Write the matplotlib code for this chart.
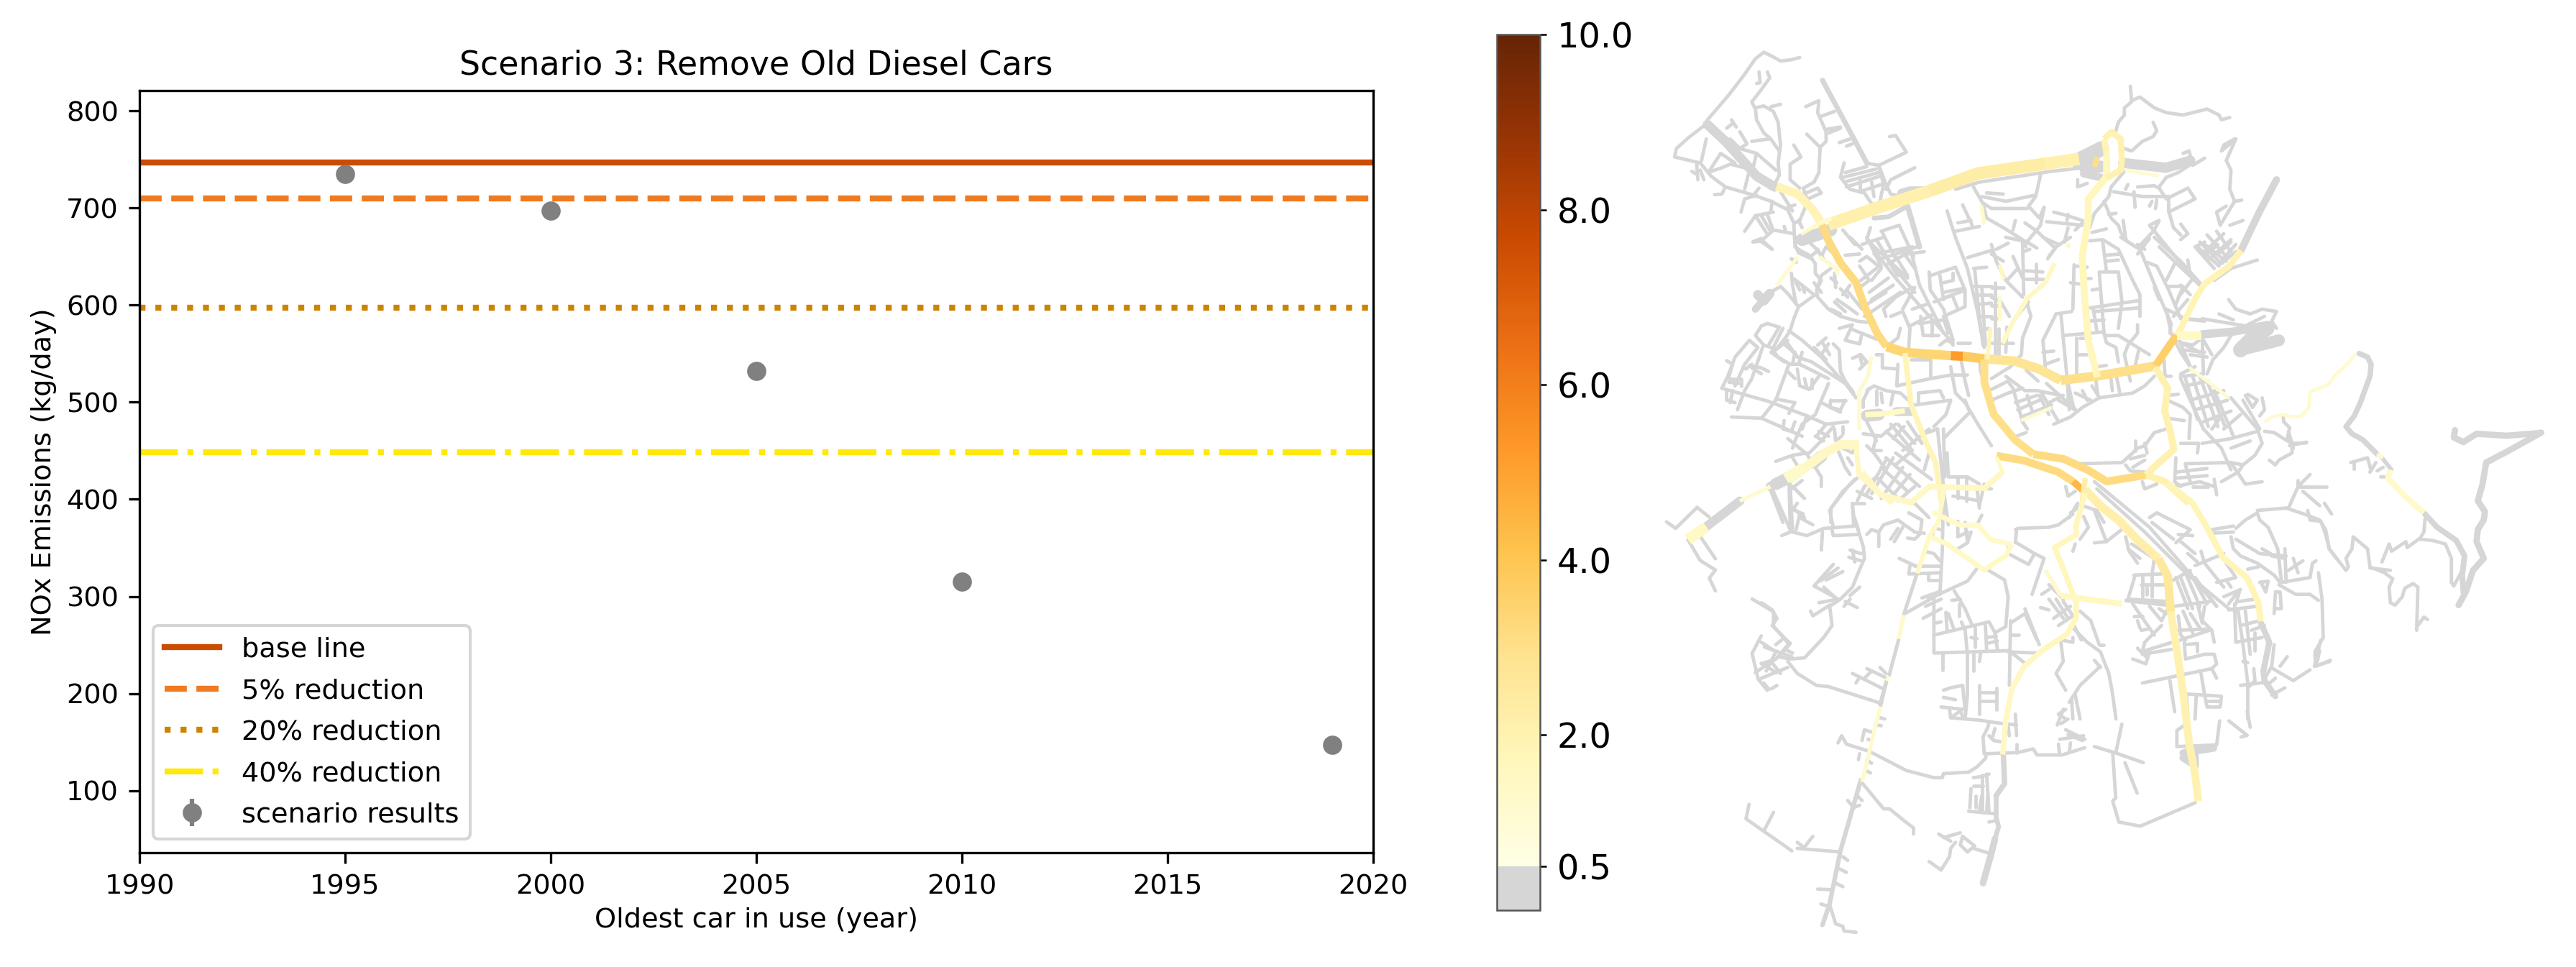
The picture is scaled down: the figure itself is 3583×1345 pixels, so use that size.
import matplotlib
matplotlib.use("Agg")
import matplotlib.pyplot as plt
from matplotlib.collections import LineCollection
from matplotlib.colors import Normalize
from matplotlib.cm import ScalarMappable

# Scenario results

years = [1995, 2000, 2005, 2010, 2019]
emissions = [735, 697, 532, 315, 147]
emission_err = [3, 3, 3, 3, 3]

base_line = 747
reductions = [0.05, 0.20, 0.40]
reduction_labels = ["5% reduction", "20% reduction", "40% reduction"]
reduction_colors = ["#f07a20", "#cc8400", "#ffe80a"]
reduction_styles = ["--", ":", "-."]

x_ticks = [1990, 1995, 2000, 2005, 2010, 2015, 2020]
y_ticks = [100, 200, 300, 400, 500, 600, 700, 800]
bar_ticks = [0.5, 2, 4, 6, 8, 10]

main_north = [
    [(345, 700), (420, 650), (510, 595)],
    [(510, 595), (590, 540), (700, 510)],
    [(700, 510), (755, 495)],
    [(260, 580), (295, 605), (320, 655), (335, 700)],
    [(335, 700), (345, 750), (365, 820), (390, 880), (405, 960), (425, 1040), (440, 1080)],
    [(440, 1080), (470, 1098), (545, 1108)],
    [(545, 1108), (565, 1110)],
    [(565, 1110), (600, 1118)],
    [(600, 1118), (650, 1125), (690, 1150), (725, 1185)],
    [(725, 1185), (790, 1170), (880, 1140)],
    [(880, 1140), (905, 1070), (915, 1045)],
    [(915, 1045), (925, 1010), (945, 930), (960, 885), (1000, 830), (1020, 780)],
    [(800, 480), (800, 550), (770, 620), (770, 680), (760, 800), (765, 950), (770, 1060), (785, 1175)],
    [(600, 1120), (600, 1190), (615, 1290), (650, 1370), (680, 1415)],
    [(680, 1415), (730, 1430), (770, 1465), (800, 1500), (865, 1480)],
    [(880, 1145), (900, 1210), (895, 1280), (905, 1350), (910, 1400), (875, 1460), (865, 1480)],
    [(865, 1480), (895, 1500), (935, 1568)],
    [(620, 1420), (665, 1435), (720, 1470), (745, 1500)],
    [(745, 1500), (763, 1530)],
    [(470, 1100), (480, 1260), (505, 1380), (520, 1440), (530, 1568)],
    [(395, 1385), (365, 1385), (340, 1410), (280, 1495)],
    [(295, 800), (260, 890)],
    [(330, 800), (360, 840), (358, 855)],
    [(395, 1340), (395, 1220), (410, 1170), (415, 1110)],
    [(390, 1390), (395, 1480), (430, 1540), (450, 1568)],
    [(595, 640), (600, 700)],
    [(625, 825), (632, 870)],
    [(625, 920), (625, 1000)],
    [(610, 1020), (605, 1120)],
    [(715, 820), (700, 880), (670, 930), (645, 1010), (630, 1070)],
    [(935, 1145), (970, 1195), (1000, 1240)],
    [(405, 1292), (430, 1290), (470, 1280)],
    [(830, 530), (885, 548)],
    [(915, 1045), (955, 1045)],
    [(660, 1310), (710, 1270)],
    [(620, 1425), (630, 1470), (600, 1520), (570, 1522)],
    [(740, 760), (735, 770)],
    [(765, 1490), (760, 1568)],
    [(796, 433), (808, 411), (823, 433), (825, 500), (823, 530), (800, 555)],
    [(796, 433), (800, 480)],
    [(785, 490), (780, 520)],
    [(300, 730), (335, 690), (350, 682)],
]
main_north_values = [2.1, 2.3, 2.1, 1.9, 3.2, 3.4, 5.2, 3.8, 2.8, 3.0, 3.6, 1.9, 1.7, 3.0, 3.2,
                     2.0, 2.0, 3.2, 4.4, 1.8, 1.5, 1.1, 1.2, 1.2, 1.5, 1.3, 1.6, 1.3,
                     1.8, 1.5, 1.1, 1.4, 1.1, 1.4, 1.1, 1.4, 1.5, 2.2, 2.0, 1.9, 3.0, 1.3]
main_north_lanes = [3.2, 3.2, 3.2, 2.2, 2, 2.4, 2.4, 2.4, 2.4, 2.4, 2, 1.6, 1.8, 2, 2,
                    1.8, 1.8, 2, 1.8, 1.4, 2.4, 1, 1, 1, 1.3, 1, 1, 1,
                    1, 1.2, 0.9, 1.4, 0.9, 2.2, 0.9, 1, 1, 1.4, 1.6, 1.6, 1.4, 0.9]

main_south = [
    [(765, 70), (790, 120), (820, 165), (850, 225), (885, 285)],
    [(885, 285), (900, 340), (905, 450)],
    [(905, 450), (915, 570), (925, 700), (935, 860), (945, 960), (950, 1040)],
    [(765, 80), (750, 180), (750, 210), (715, 250), (730, 320), (750, 420), (750, 470), (735, 520), (695, 570)],
    [(695, 570), (665, 620), (645, 690), (635, 790), (630, 895)],
    [(535, 60), (525, 170), (510, 215), (490, 330)],
    [(468, 460), (460, 535)],
    [(444, 650), (440, 665)],
    [(430, 745), (420, 820), (400, 980)],
    [(305, 0), (275, 35)],
    [(250, 60), (200, 105)],
    [(145, 185), (115, 225)],
    [(900, 50), (940, 110), (965, 190), (990, 280), (1030, 345), (1048, 420), (1052, 480)],
    [(515, 140), (560, 180), (590, 180), (610, 225), (645, 240)],
    [(510, 215), (540, 240), (600, 320), (635, 275), (645, 240)],
    [(400, 15), (430, 85), (480, 110), (510, 60), (600, 65), (630, 15)],
    [(725, 400), (825, 425)],
    [(700, 320), (725, 400)],
]
main_south_values = [2.2, 2.6, 2.0, 1.7, 1.5, 1.4, 1.2, 1.1, 1.2, 1.3, 1.1, 1.4, 1.8,
                     1.3, 1.4, 1.5, 1.6, 1.2]
main_south_lanes = [2.2, 2.2, 2, 1.4, 1.4, 1.2, 1.1, 1, 1, 2.8, 1, 2.8, 1.6,
                    1.3, 1.3, 1.5, 1.5, 1.1]

main_h = [
    [(380, 35), (350, 75), (300, 120), (265, 165), (190, 195), (185, 260), (155, 295), (115, 300), (75, 290), (30, 300), (0, 320)],
    [(470, 455), (495, 470)],
    [(525, 520), (515, 555), (580, 625), (665, 700)],
]
main_h_values = [1.1, 1.2, 1.3]
main_h_lanes = [0.9, 1.0, 1.5]

trunk_north = [
    [(1078, 560), (1050, 660), (1020, 780)],
]
trunk_north_lanes = [2.4]

trunk_south = [
    [(275, 35), (250, 60)],
    [(200, 105), (145, 185)],
    [(925, 890), (975, 875)],
    [(935, 880), (925, 905), (945, 930), (945, 900)],
    [(832, 415), (905, 430)],
    [(490, 330), (468, 460)],
    [(460, 535), (444, 650)],
    [(440, 665), (430, 745)],
]
trunk_south_lanes = [3.2, 3, 2.4, 2.4, 1.3, 1.2, 1.2, 1.2]

minor_south = [
    [(130, 125), (95, 190), (80, 170)], [(130, 125), (150, 155)],
    [(115, 225), (135, 290), (160, 320), (150, 345), (160, 385)], [(135, 215), (160, 285)],
    [(220, 410), (255, 450), (255, 495), (280, 550), (260, 595), (225, 640)],
    [(235, 525), (220, 580), (230, 660), (245, 695)], [(235, 610), (260, 640)], [(240, 560), (285, 590)],
    [(810, 890), (815, 1030), (810, 1040), (820, 1105), (855, 1118), (945, 1045)],
    [(815, 890), (860, 920)], [(830, 920), (850, 1015)],
    [(780, 870), (815, 890), (825, 800)],
    [(930, 800), (915, 820), (915, 870), (980, 865), (985, 790)],
    [(215, 1050), (210, 1095), (285, 1195)], [(255, 1075), (240, 1130)],
    [(1000, 790), (1030, 835), (1020, 840)], [(1030, 760), (1035, 810)],
    [(1150, 540), (1140, 620), (1165, 605)],
]

# crops of the map at full scale

crop_a = [
    [(205, 18), (240, 5)], [(245, 15), (285, 50)],
    [(385, 0), (380, 40), (410, 60), (440, 75), (465, 110), (465, 150), (490, 180), (470, 220), (475, 250), (520, 300), (570, 330), (640, 350), (680, 355)],
    [(430, 10), (470, 50), (500, 90)], [(470, 60), (440, 85)], [(365, 90), (385, 105)],
    [(365, 150), (370, 200), (385, 280)], [(370, 170), (410, 200), (460, 240)], [(410, 200), (420, 230)], [(385, 190), (400, 220)],
    [(270, 235), (320, 205), (350, 235), (395, 290), (375, 340), (360, 390), (340, 420), (300, 470)],
    [(395, 290), (465, 240)], [(460, 190), (490, 230)], [(530, 130), (490, 160), (475, 210)],
    [(545, 150), (550, 210)], [(530, 170), (555, 190)],
    [(570, 215), (600, 250)], [(580, 240), (610, 200)], [(555, 260), (600, 290), (640, 320)], [(545, 270), (590, 310)], [(530, 300), (570, 320)], [(600, 225), (660, 300)],
    [(590, 75), (650, 70)], [(650, 100), (680, 80), (740, 130), (700, 180)], [(650, 120), (690, 180), (650, 210)],
    [(680, 0), (730, 80), (800, 170), (870, 250), (950, 340), (1020, 420), (1040, 450)], [(610, 0), (660, 50)],
    [(720, 10), (780, 110), (880, 230)], [(660, 30), (750, 0)], [(740, 90), (890, 40)], [(770, 110), (860, 60)],
    [(770, 100), (810, 160)], [(800, 80), (850, 160)], [(830, 60), (880, 130)], [(655, 180), (720, 130)],
    [(690, 230), (770, 170)], [(700, 260), (790, 200)], [(680, 280), (760, 230)], [(670, 330), (820, 230)],
    [(850, 70), (920, 60)], [(865, 60), (900, 200), (960, 320), (1000, 400)], [(690, 20), (850, 170)],
    [(940, 145), (945, 220), (1000, 300), (1040, 430)], [(945, 160), (1050, 125), (1090, 220), (1090, 290), (1000, 330)],
    [(985, 160), (1000, 260)], [(1000, 190), (1040, 180), (1040, 150)], [(1010, 250), (1080, 225)], [(1000, 230), (1075, 215)],
    [(960, 270), (1030, 245)], [(1040, 250), (1060, 300)],
    [(760, 330), (750, 300), (800, 250), (870, 210)], [(780, 330), (830, 310), (860, 380), (855, 460)], [(830, 300), (880, 210)],
    [(860, 370), (960, 320)], [(870, 300), (930, 280)], [(905, 330), (915, 410), (980, 410)], [(900, 360), (1000, 345)],
    [(950, 350), (950, 410)], [(1000, 340), (1020, 400)], [(820, 380), (810, 420), (770, 450)],
    [(985, 450), (1010, 430), (1040, 440)], [(1060, 440), (1110, 440)],
    [(1050, 0), (1100, 130), (1140, 300), (1170, 460)], [(1100, 85), (1200, 55)], [(1125, 130), (1180, 125)], [(1130, 130), (1145, 290), (1165, 450)],
    [(1125, 205), (1200, 205)], [(1135, 240), (1200, 240)], [(1145, 280), (1200, 275)], [(1160, 210), (1175, 450)],
    [(1150, 330), (1200, 330)], [(1155, 390), (1190, 380)],
    [(1030, 540), (1050, 650), (1090, 690), (1150, 790), (1200, 870)], [(1075, 520), (1090, 600), (1105, 660)], [(1150, 500), (1155, 560), (1200, 720)],
    [(1090, 680), (1110, 730), (1000, 840)],
    [(565, 380), (620, 365), (590, 430), (650, 445), (660, 400)], [(620, 385), (720, 425)],
    [(720, 490), (745, 490), (745, 545), (810, 550)], [(810, 530), (805, 620), (945, 590), (1030, 575), (1100, 575)], [(865, 510), (940, 510)], [(945, 480), (945, 580)],
    [(540, 445), (565, 470), (570, 560), (590, 600), (625, 650)], [(495, 440), (525, 490)], [(520, 445), (490, 490)], [(460, 460), (510, 510)], [(475, 450), (510, 420)],
    [(620, 505), (655, 490), (680, 520), (650, 550)], [(650, 490), (660, 530)],
    [(680, 640), (710, 620), (760, 640), (820, 650), (870, 695)], [(690, 630), (665, 680), (665, 710)], [(720, 640), (720, 700)], [(740, 650), (745, 690)], [(790, 650), (780, 700)],
    [(895, 650), (985, 640), (1000, 670)], [(895, 650), (895, 690)], [(880, 700), (1030, 680), (1010, 740), (960, 790)],
    [(240, 370), (265, 360), (315, 375), (270, 450)], [(240, 370), (215, 410), (250, 450), (295, 465)], [(330, 380), (285, 470)],
    [(355, 390), (410, 430), (490, 500), (570, 590), (620, 640)], [(340, 430), (390, 500), (450, 520), (590, 610), (635, 670)],
    [(290, 475), (310, 500), (360, 530), (400, 530), (520, 590)],
    [(190, 430), (225, 460), (170, 530), (130, 620)], [(190, 430), (130, 500), (100, 580), (75, 630)],
    [(95, 515), (120, 530), (105, 580)], [(190, 535), (240, 545), (270, 560)], [(175, 550), (200, 530)], [(200, 545), (240, 570)],
    [(245, 460), (200, 590), (170, 640), (140, 720)], [(280, 480), (335, 520)], [(340, 450), (385, 490)], [(300, 470), (350, 430)], [(380, 480), (370, 530)], [(410, 480), (395, 530)],
    [(355, 530), (300, 680), (245, 750)], [(350, 560), (380, 590)], [(390, 550), (400, 620), (440, 635), (480, 580)], [(420, 590), (430, 630)], [(450, 590), (450, 630)],
    [(75, 630), (270, 685), (430, 745), (510, 780), (600, 770)], [(95, 640), (95, 680), (130, 690)], [(120, 640), (110, 690)],
    [(105, 590), (155, 590), (155, 620)], [(105, 605), (150, 610)], [(115, 750), (240, 755), (320, 790), (410, 830)], [(300, 675), (380, 690), (355, 735)],
    [(520, 610), (465, 740), (410, 780), (380, 850), (370, 880)], [(530, 680), (590, 680)], [(530, 680), (525, 710), (570, 720), (590, 680)], [(490, 690), (570, 730)],
    [(335, 765), (330, 800), (365, 810), (380, 770)], [(430, 745), (410, 800)], [(510, 780), (470, 830)], [(480, 810), (520, 830)], [(465, 830), (500, 850)],
    [(545, 800), (550, 850), (575, 830)], [(580, 790), (580, 820)], [(540, 790), (490, 850), (440, 900)],
    [(300, 935), (370, 910), (430, 900)], [(350, 840), (430, 905), (490, 1000), (490, 1040)], [(370, 920), (395, 960)],
    [(280, 1060), (330, 1190)], [(355, 1010), (360, 1200)], [(365, 1050), (410, 1015)], [(370, 1040), (420, 1090)], [(360, 1150), (390, 1110)], [(370, 1130), (420, 1170)],
    [(530, 1190), (530, 1130), (610, 1030), (630, 1010)], [(620, 1110), (625, 1200)], [(620, 1110), (670, 1110)], [(640, 1100), (670, 1040), (720, 1000)],
    [(680, 1070), (760, 930)], [(700, 1070), (790, 920)], [(740, 1090), (830, 960)], [(770, 1100), (860, 990)], [(810, 1100), (880, 1040)],
    [(760, 920), (900, 1040)], [(740, 960), (850, 1060)], [(720, 1000), (810, 1090)], [(800, 900), (950, 1010)],
    [(680, 770), (720, 850)], [(665, 820), (740, 830), (800, 780)], [(720, 830), (705, 890), (740, 890)], [(680, 870), (710, 900), (760, 970)],
    [(760, 810), (900, 930)], [(780, 780), (870, 890), (800, 950)], [(810, 780), (880, 860)], [(850, 770), (910, 860)], [(790, 840), (835, 790)],
    [(830, 890), (940, 800)], [(920, 820), (975, 800)], [(975, 800), (1000, 1040)], [(1000, 800), (1005, 1000)], [(1015, 900), (1020, 1000), (1100, 1000), (1150, 1030)], [(940, 900), (920, 970)],
    [(580, 880), (620, 900), (630, 880)], [(560, 890), (590, 960), (610, 990)], [(600, 920), (620, 950)],
    [(1015, 1040), (1200, 1050)], [(1060, 1000), (1060, 1090)], [(1095, 1000), (1095, 1100)], [(1040, 1080), (1150, 1100)], [(1140, 1050), (1150, 1130)], [(1170, 1030), (1150, 1120)],
    [(870, 1100), (940, 1170)], [(700, 1090), (640, 1060)], [(1160, 1160), (1140, 1200)], [(1000, 1050), (1020, 1200)],
]
trunk_a = [
    [(225, 240), (250, 265), (275, 235)], [(245, 265), (215, 300)],
    [(680, 745), (730, 740)], [(800, 725), (860, 725)],
    [(300, 1030), (350, 1005)], [(460, 940), (490, 915)],
]
trunk_a_lanes = [3.2, 2.4, 4, 3, 4, 4]

crop_b = [
    [(0, 30), (20, 100), (60, 180), (130, 250)], [(0, 70), (50, 100)], [(20, 50), (70, 25)], [(60, 0), (130, 15), (135, 240)], [(90, 80), (130, 170)], [(65, 180), (110, 130)],
    [(140, 15), (190, 45)], [(145, 140), (215, 145)], [(145, 175), (215, 175)], [(185, 110), (185, 190)], [(215, 0), (280, 30)], [(135, 60), (160, 50)],
    [(240, 80), (270, 40), (330, 0)], [(0, 210), (50, 210)], [(0, 250), (40, 270)], [(15, 190), (15, 490)], [(0, 285), (40, 285)], [(0, 340), (30, 340)],
    [(40, 270), (75, 330)], [(30, 380), (30, 490)], [(65, 375), (60, 480)], [(0, 440), (90, 440)],
    [(150, 280), (165, 330), (130, 420), (125, 490), (80, 540), (0, 590)], [(0, 635), (70, 600)], [(155, 270), (90, 350)],
    [(75, 610), (90, 630), (130, 770)], [(0, 680), (70, 650), (130, 630)], [(60, 580), (140, 640), (190, 640), (290, 660)], [(145, 555), (195, 600)],
    [(100, 690), (190, 660)], [(110, 720), (200, 680)], [(125, 750), (250, 700)], [(150, 660), (175, 740)], [(200, 660), (240, 740)], [(210, 650), (280, 770)], [(230, 610), (340, 710)], [(240, 690), (300, 660)],
    [(260, 780), (330, 750), (380, 710), (450, 670), (590, 650), (640, 620), (680, 580)], [(280, 680), (350, 720)], [(320, 670), (350, 720)], [(350, 650), (415, 680)], [(380, 640), (400, 680)], [(420, 620), (445, 660)],
    [(130, 770), (150, 800)], [(105, 830), (145, 815)],
    [(270, 320), (215, 430), (225, 540)], [(270, 320), (335, 310)], [(290, 320), (315, 580), (325, 720)], [(345, 115), (340, 300)], [(350, 120), (400, 125)], [(385, 170), (415, 170)], [(330, 190), (365, 195)], [(420, 220), (450, 215)],
    [(410, 15), (465, 10), (530, 50), (590, 180), (620, 240), (620, 330)], [(465, 20), (480, 140)], [(450, 145), (470, 400), (480, 440), (520, 460), (530, 520)], [(480, 75), (540, 70)], [(480, 100), (530, 95)],
    [(460, 145), (530, 145), (545, 270), (530, 380)], [(410, 295), (610, 265)], [(405, 350), (470, 345)], [(425, 300), (440, 390)], [(430, 310), (615, 295)], [(300, 410), (470, 395)],
    [(480, 410), (530, 410), (660, 490)], [(610, 365), (610, 400), (570, 450), (555, 490), (580, 600)], [(615, 470), (595, 560)], [(355, 420), (355, 580)], [(355, 490), (395, 490)],
    [(215, 480), (260, 475)], [(225, 530), (280, 510)], [(370, 420), (410, 420)], [(440, 540), (480, 535)], [(435, 590), (445, 660)], [(495, 560), (505, 640)], [(520, 570), (535, 645)], [(320, 610), (345, 720)],
    [(540, 0), (620, 50), (690, 220), (720, 290)], [(650, 105), (690, 120), (740, 220), (790, 340)], [(700, 40), (880, 210)], [(680, 0), (790, 100), (870, 190)], [(610, 70), (660, 5)], [(610, 30), (640, 50)],
    [(765, 110), (730, 180)], [(680, 210), (700, 260)], [(820, 95), (830, 160)], [(735, 205), (800, 205), (770, 280)], [(835, 180), (780, 250)], [(820, 260), (760, 330)], [(790, 200), (830, 240)],
    [(730, 300), (750, 400), (790, 480), (830, 540)], [(730, 300), (810, 340), (880, 345)], [(720, 290), (750, 360), (745, 400)], [(800, 340), (890, 350)],
    [(850, 40), (890, 20)], [(860, 40), (950, 120)], [(890, 30), (980, 100)], [(900, 70), (945, 30)], [(945, 70), (1000, 20)], [(960, 110), (1020, 60)], [(930, 180), (1000, 130), (1110, 95)],
    [(990, 260), (1020, 300), (1080, 320), (1130, 300), (1190, 310), (1170, 350), (1190, 380)], [(950, 320), (1010, 345)], [(880, 340), (1060, 370), (1140, 330)],
    [(1000, 410), (970, 460), (925, 510), (900, 570)], [(790, 440), (840, 450), (880, 420), (920, 490)], [(790, 440), (870, 480)], [(800, 470), (890, 480)], [(830, 490), (900, 500)], [(880, 420), (885, 570)],
    [(850, 540), (790, 570), (790, 590), (830, 680), (885, 800), (960, 880), (1000, 970)], [(720, 510), (725, 580), (750, 580)], [(780, 420), (830, 540)],
    [(800, 580), (885, 570)], [(810, 620), (905, 600)], [(830, 680), (970, 640)], [(850, 720), (985, 680)], [(885, 770), (1000, 725)], [(810, 590), (860, 760)], [(840, 580), (905, 790)], [(870, 580), (945, 790)], [(900, 600), (975, 790)], [(930, 640), (1010, 830)],
    [(880, 860), (1000, 840), (1110, 810)], [(1000, 670), (1110, 800), (1130, 860), (1100, 910), (1050, 950)], [(1060, 660), (1090, 710), (1110, 680), (1070, 655)], [(1130, 670), (1140, 720), (1120, 745)], [(1050, 680), (1120, 800)], [(1000, 880), (1080, 850)], [(920, 800), (950, 760)], [(1040, 740), (970, 800)],
    [(735, 680), (800, 710), (830, 740), (825, 840)], [(735, 755), (805, 765)], [(735, 660), (780, 655)], [(790, 860), (865, 860), (860, 900)],
    [(730, 800), (680, 815), (640, 870), (610, 880), (590, 900), (545, 940), (370, 945)], [(600, 850), (600, 890)], [(560, 950), (580, 975), (640, 980)], [(580, 925), (640, 910)], [(590, 960), (640, 930)], [(640, 860), (650, 900)],
    [(810, 945), (1000, 940), (1050, 950), (1030, 980), (960, 1020)], [(770, 920), (765, 1020), (790, 1040)], [(810, 950), (830, 1020)], [(770, 980), (900, 965)], [(775, 1005), (900, 995)], [(765, 1040), (870, 1020), (930, 1040)], [(930, 1010), (940, 1075)], [(840, 1040), (905, 1040)],
    [(1000, 940), (1060, 1030), (1130, 1020)], [(630, 1020), (640, 1050), (690, 1030)], [(310, 1040), (320, 1080), (350, 1060)], [(325, 1170), (360, 1110)], [(380, 1120), (440, 1140), (470, 1190)],
]
trunk_b = [
    [(880, 405), (1000, 395), (1060, 385), (1130, 370)],
    [(1040, 470), (1090, 420), (1150, 380)], [(1060, 465), (1200, 430)],
]
trunk_b_lanes = [2.8, 5, 4]

crop_c = [
    [(400, 400), (425, 480), (430, 530), (400, 600), (380, 650), (330, 700), (285, 730), (295, 810), (260, 860), (180, 945), (120, 950), (70, 940)],
    [(380, 310), (385, 350), (405, 410)], [(130, 420), (190, 435), (260, 405), (390, 395)], [(295, 410), (300, 435), (410, 430)], [(255, 420), (250, 495)],
    [(130, 420), (120, 220)], [(45, 240), (120, 410)], [(85, 435), (120, 420)], [(130, 230), (175, 275)], [(120, 320), (175, 345)], [(160, 345), (145, 410)], [(160, 360), (215, 390)],
    [(300, 400), (285, 330), (340, 250), (405, 190)], [(440, 430), (460, 410), (490, 420), (490, 480)], [(490, 420), (510, 390), (570, 370)], [(540, 450), (570, 405)], [(555, 460), (590, 400)],
    [(570, 370), (640, 420), (680, 425)], [(610, 445), (640, 450), (660, 430)], [(615, 340), (670, 370), (665, 410)], [(715, 430), (720, 400), (745, 410)], [(760, 250), (755, 500), (745, 680)],
    [(820, 490), (860, 465), (875, 420)], [(820, 375), (820, 440), (860, 420)], [(850, 380), (860, 460)],
    [(575, 530), (640, 560)], [(620, 560), (615, 595), (745, 590)], [(640, 560), (745, 560)], [(695, 590), (695, 620), (745, 620)], [(680, 500), (720, 510), (745, 540)],
    [(600, 760), (740, 680), (860, 625), (905, 565)], [(670, 695), (740, 670)], [(690, 690), (720, 700)], [(685, 730), (750, 700)], [(675, 780), (750, 740)], [(795, 705), (830, 700)],
    [(805, 665), (850, 740), (880, 810)], [(825, 720), (825, 770)], [(835, 795), (845, 820)],
    [(720, 680), (720, 925), (1030, 915)], [(720, 850), (950, 795), (975, 840), (1020, 815)], [(770, 755), (775, 830)], [(780, 760), (805, 830)], [(725, 800), (750, 795)],
    [(850, 825), (860, 930), (860, 1100), (850, 1200)], [(890, 820), (890, 900)], [(935, 810), (940, 910)], [(975, 840), (985, 910)], [(940, 860), (980, 855)], [(940, 885), (985, 875)], [(875, 860), (900, 865)],
    [(1020, 815), (1030, 690), (1015, 620), (940, 575)], [(755, 930), (755, 995)], [(915, 925), (910, 960)], [(885, 925), (885, 1000)],
    [(1040, 790), (1035, 1060)], [(1040, 800), (1100, 760), (1150, 870)], [(1100, 740), (1160, 890)], [(1030, 920), (1150, 925)], [(1040, 920), (1110, 975)], [(1075, 850), (1045, 850)],
    [(1030, 480), (1030, 510), (1115, 555), (1140, 510), (1065, 465)], [(1060, 410), (1070, 405), (1200, 400)], [(1065, 410), (1060, 465)], [(1140, 510), (1180, 530), (1130, 680)],
    [(220, 645), (300, 555)], [(245, 625), (320, 570)], [(270, 620), (340, 585)], [(220, 645), (320, 700)], [(260, 650), (310, 695)], [(370, 685), (410, 650)], [(350, 710), (400, 735)], [(345, 730), (370, 700)],
    [(240, 715), (320, 700)], [(205, 750), (215, 770), (285, 725)], [(370, 495), (415, 510)], [(365, 525), (415, 540)], [(380, 495), (390, 545)],
    [(0, 715), (45, 745), (65, 780), (45, 810), (120, 885)], [(120, 885), (75, 940)], [(60, 890), (85, 870)], [(100, 910), (130, 925)],
    [(0, 880), (60, 920), (20, 1000)], [(0, 970), (60, 950)], [(0, 1030), (110, 985)], [(40, 960), (80, 1010)], [(10, 1050), (30, 1075)], [(40, 1075), (65, 1060)],
    [(110, 960), (150, 1010), (230, 1060), (280, 1065), (500, 1135)],
    [(380, 1010), (510, 1075)], [(440, 990), (525, 1030)], [(495, 985), (520, 1010)], [(460, 1000), (430, 1030)], [(410, 1025), (395, 1050)],
    [(1170, 680), (1200, 660)], [(1165, 735), (1200, 745)],
]

crop_d = [
    [(190, 210), (420, 400), (560, 560), (700, 730)], [(200, 240), (400, 420), (570, 590), (745, 735)],
    [(420, 360), (450, 340), (590, 410), (530, 465)], [(430, 380), (520, 450)], [(540, 430), (600, 435)], [(550, 460), (610, 510)], [(580, 510), (620, 545)],
    [(635, 500), (650, 550), (730, 650)], [(610, 560), (730, 510)], [(700, 630), (780, 610), (740, 550)], [(740, 620), (760, 650)], [(730, 690), (800, 660)], [(750, 720), (780, 680)], [(795, 670), (780, 720)],
    [(320, 440), (335, 500), (370, 550)], [(345, 470), (440, 530), (430, 600)], [(330, 490), (380, 530)], [(355, 600), (470, 595)], [(360, 600), (330, 700), (500, 710)], [(390, 610), (390, 690)], [(430, 600), (430, 690)], [(385, 640), (480, 640)], [(410, 650), (410, 680)],
    [(350, 720), (440, 850)], [(355, 770), (390, 770)], [(385, 830), (415, 825)], [(370, 790), (380, 820)], [(420, 730), (470, 790), (490, 750)], [(460, 740), (490, 760)],
    [(470, 810), (400, 880), (390, 920)], [(385, 920), (515, 880)], [(390, 930), (510, 910)], [(350, 950), (405, 970), (420, 920)], [(370, 905), (410, 945)],
    [(520, 620), (590, 580)], [(530, 610), (580, 740)], [(550, 610), (600, 740)], [(570, 590), (630, 730)], [(590, 590), (660, 720)], [(610, 610), (700, 730)], [(520, 730), (670, 710)],
    [(540, 770), (550, 850), (570, 870)], [(560, 750), (600, 840)], [(590, 760), (630, 820)], [(620, 720), (640, 800)], [(650, 730), (640, 790), (680, 830), (690, 880)], [(540, 830), (660, 825)], [(520, 880), (670, 830)],
    [(565, 880), (570, 950), (650, 930), (690, 930), (700, 970), (680, 990)], [(570, 890), (620, 885), (620, 920)], [(390, 1050), (680, 990)], [(635, 1010), (650, 1100)], [(680, 990), (700, 1030)], [(505, 1040), (525, 1170)],
    [(560, 1095), (720, 1105), (715, 1150), (660, 1150), (650, 1100)], [(615, 1100), (610, 1200)], [(660, 1125), (715, 1125)], [(575, 1100), (580, 1190)],
    [(750, 740), (790, 750), (810, 890), (830, 1050), (830, 1200)], [(775, 720), (780, 880), (890, 860)], [(750, 745), (865, 730)], [(790, 710), (860, 700)], [(820, 750), (840, 930)], [(800, 810), (880, 790)], [(845, 830), (900, 810)], [(860, 840), (860, 915)],
    [(940, 890), (930, 980), (890, 1050)], [(810, 960), (830, 965)], [(855, 990), (860, 1040), (830, 1070)], [(800, 1060), (880, 1050)], [(945, 1030), (910, 1060)], [(985, 1070), (930, 1100)],
    [(935, 990), (1020, 1040), (1090, 995)], [(965, 980), (995, 940)], [(1110, 930), (1115, 980), (1175, 955)], [(1125, 590), (1140, 700), (1145, 860), (1110, 920)], [(1120, 960), (1130, 915)],
    [(990, 320), (1080, 350), (1130, 370), (1155, 410), (1170, 490), (1200, 530)], [(1000, 320), (1040, 230), (1040, 205)], [(870, 330), (990, 320)],
    [(780, 405), (820, 370), (870, 340), (880, 370), (915, 400), (955, 490), (970, 620)], [(680, 410), (770, 395)], [(680, 425), (770, 420)],
    [(760, 440), (770, 490), (800, 520), (870, 550), (940, 600), (965, 630)], [(780, 450), (880, 510), (990, 520)], [(830, 575), (875, 565)], [(880, 630), (915, 625), (905, 670), (885, 630)],
    [(970, 630), (1090, 610), (1100, 550), (1115, 540)], [(960, 640), (1030, 680), (1090, 680), (1125, 705)], [(985, 490), (990, 630)], [(1000, 580), (1060, 540)], [(1020, 530), (1040, 590)], [(945, 680), (940, 760)], [(945, 670), (965, 670), (970, 740), (945, 740)], [(890, 490), (925, 510)], [(930, 520), (985, 530)],
    [(1040, 230), (1160, 230)], [(1040, 230), (1090, 180)], [(1060, 250), (1130, 310)], [(1150, 300), (1180, 345)], [(1005, 60), (1075, 45)], [(1000, 0), (1020, 70)],
    [(190, 330), (240, 460), (190, 465)], [(240, 460), (310, 405)], [(100, 345), (40, 390), (0, 400)], [(135, 310), (90, 340)], [(145, 355), (165, 400), (130, 450)], [(110, 470), (100, 500)],
    [(0, 640), (60, 700)], [(0, 700), (60, 780)], [(30, 700), (80, 780)], [(60, 710), (100, 770)], [(20, 780), (90, 730)], [(40, 810), (100, 770)],
    [(90, 810), (160, 880), (215, 920), (250, 1010), (265, 1090), (280, 1200)], [(130, 750), (175, 790), (210, 890)], [(210, 890), (230, 890)], [(100, 800), (135, 870)], [(50, 870), (100, 880), (100, 860)], [(50, 880), (60, 960), (30, 1010), (70, 1080)],
    [(215, 980), (130, 1060), (85, 1130)], [(190, 955), (215, 985)], [(110, 1100), (130, 1200)], [(95, 1120), (100, 1200)], [(40, 1180), (70, 1160)],
]
trunk_d = [
    [(885, 800), (920, 880), (895, 1000), (900, 1040), (945, 1105)],
]
trunk_d_lanes = [2]

crop_e = [
    [(550, 90), (510, 100), (470, 105), (435, 85), (400, 68), (365, 95), (320, 160), (255, 245), (165, 350)],
    [(380, 150), (385, 195), (370, 198)],
    [(415, 150), (425, 175), (385, 230), (350, 275), (365, 305), (370, 350), (400, 405), (425, 425), (465, 480)],
    [(365, 300), (400, 292), (440, 315), (460, 360), (465, 410), (470, 455), (465, 490), (460, 530), (465, 580), (450, 610)],
    [(430, 295), (470, 285)],
    [(150, 375), (85, 425), (35, 470), (28, 505), (135, 530), (180, 585), (240, 630), (360, 665), (430, 690), (500, 725), (525, 780), (530, 870), (545, 905), (600, 930)],
    [(160, 430), (140, 520)], [(100, 565), (115, 575)], [(120, 535), (125, 600)], [(135, 560), (150, 600)],
    [(175, 560), (220, 490), (280, 530)], [(180, 565), (225, 550), (260, 535), (320, 550)],
    [(350, 440), (420, 430)], [(300, 400), (330, 450), (300, 470), (370, 490), (450, 560)], [(265, 350), (285, 380)], [(245, 385), (270, 365)], [(260, 430), (300, 470)],
    [(370, 490), (350, 570)], [(335, 580), (320, 640)], [(235, 640), (225, 660), (195, 662)], [(370, 665), (320, 680), (305, 735)], [(380, 635), (360, 660)],
    [(525, 455), (555, 505), (510, 535), (510, 600), (550, 635)],
    [(580, 410), (635, 465), (630, 570), (610, 610), (565, 635), (580, 680)], [(635, 465), (660, 440), (660, 400), (625, 320), (630, 270), (575, 295)],
    [(585, 680), (640, 655), (625, 635), (565, 660)],
    [(640, 335), (695, 315)], [(660, 390), (720, 380)], [(670, 405), (720, 385)], [(715, 445), (775, 425)], [(745, 460), (770, 450)],
    [(925, 420), (950, 415), (995, 485), (880, 540)], [(1030, 550), (930, 600), (910, 640)],
    [(735, 530), (720, 590), (760, 640), (820, 655), (850, 700)], [(885, 560), (900, 620), (885, 690)],
    [(740, 570), (830, 545)], [(730, 590), (870, 555)], [(735, 610), (880, 570)], [(745, 630), (885, 585)], [(800, 650), (890, 620)], [(800, 600), (800, 650)], [(850, 610), (860, 670)],
    [(825, 530), (880, 540), (910, 620), (930, 660), (975, 670)],
    [(435, 690), (430, 730)], [(470, 650), (520, 730)], [(500, 715), (530, 705)], [(575, 710), (550, 770), (530, 780)], [(545, 770), (560, 800)],
    [(320, 815), (365, 750), (440, 735)], [(365, 750), (410, 820)], [(390, 750), (425, 810)], [(415, 745), (435, 800)], [(355, 860), (390, 855), (440, 810), (525, 825)], [(385, 855), (435, 890)], [(485, 795), (490, 810)],
    [(515, 930), (535, 940)], [(625, 890), (640, 920), (660, 880), (705, 920)],
    [(845, 800), (830, 850)], [(730, 810), (780, 870)], [(840, 860), (890, 960)], [(890, 815), (965, 790), (1025, 920)], [(895, 820), (950, 930)], [(860, 910), (1020, 880)],
    [(1165, 730), (1200, 840)],
]
trunk_e = [
    [(165, 370), (240, 440), (330, 540), (370, 585), (445, 630)],
    [(560, 850), (680, 810)],
    [(975, 655), (1010, 645), (1070, 645)],
    [(1000, 710), (1050, 880)],
    [(860, 760), (920, 755), (1000, 710)],
    [(645, 185), (830, 530)],
]
trunk_e_lanes = [3.2, 4.2, 2.8, 1.8, 1.6, 1.7]

crop_f = [
    [(730, 210), (735, 270), (770, 255), (830, 300), (880, 320), (950, 330), (1050, 305), (1100, 330), (1110, 350), (1145, 340)],
    [(735, 275), (705, 300), (705, 330), (680, 360), (670, 395)],
    [(825, 360), (840, 395), (825, 420), (780, 440), (735, 480), (690, 465)],
    [(1040, 510), (990, 540), (975, 480), (950, 490)],
    [(705, 565), (650, 630), (640, 670), (620, 695), (580, 740), (560, 800)],
    [(510, 600), (510, 630), (550, 615)],
    [(660, 650), (780, 670), (890, 670), (890, 730), (910, 800), (940, 830)],
    [(760, 630), (830, 625), (850, 635), (880, 680), (970, 635), (1000, 680), (890, 735)],
    [(710, 640), (720, 620)], [(745, 650), (750, 715)], [(840, 685), (835, 720)], [(810, 710), (820, 690)],
    [(620, 690), (650, 760), (680, 790), (690, 820), (720, 860), (760, 885), (830, 810), (850, 770), (810, 790), (900, 900), (950, 960), (1020, 1040)],
    [(640, 745), (670, 740)], [(700, 770), (710, 840)], [(570, 820), (630, 805)], [(940, 785), (970, 825), (940, 850)],
    [(850, 630), (880, 590), (930, 570), (990, 530)],
    [(1170, 430), (1110, 480), (1120, 455), (1165, 430)],
    [(1170, 430), (1130, 520), (1150, 560), (1145, 640), (1165, 690), (1195, 685)],
    [(1090, 735), (1105, 790), (1165, 690)], [(1090, 735), (1130, 710)], [(1145, 790), (1200, 770)],
    [(1000, 880), (1080, 970)], [(1020, 860), (1100, 940)], [(1050, 830), (1130, 920)], [(1090, 815), (1150, 900)],
    [(1040, 900), (1120, 825)], [(1060, 930), (1150, 850)], [(1100, 950), (1170, 870)],
    [(75, 630), (115, 700), (130, 760), (200, 800), (280, 850), (295, 880)],
    [(130, 655), (200, 660)], [(110, 670), (210, 690), (330, 665)],
    [(355, 580), (335, 670), (305, 710), (350, 760), (370, 715), (355, 790), (290, 870)],
    [(120, 700), (150, 720), (300, 720)], [(380, 775), (530, 790)], [(410, 735), (450, 745), (530, 770)], [(470, 745), (465, 770)], [(290, 780), (340, 815), (410, 880)],
    [(30, 705), (70, 790)], [(10, 780), (65, 770)], [(0, 815), (100, 795)], [(250, 770), (240, 810)],
    [(470, 800), (455, 860)], [(500, 810), (530, 780)], [(420, 880), (385, 930)],
    [(0, 640), (100, 610), (400, 565), (530, 550)],
]
trunk_f = [
    [(510, 520), (610, 470)],
    [(535, 575), (605, 590)],
    [(540, 550), (605, 545)],
    [(700, 530), (880, 550), (980, 520)],
]
trunk_f_lanes = [5, 2.5, 4, 3.4]

crop_g = [
    [(170, 250), (185, 220), (205, 255), (300, 285), (455, 365), (570, 395), (605, 395), (610, 378), (715, 372), (750, 350), (785, 315), (790, 295), (920, 290), (985, 275), (1000, 300), (1105, 300), (1200, 270)],
    [(780, 295), (775, 225), (795, 185), (800, 165)],
    [(270, 240), (280, 195), (310, 205)], [(295, 235), (310, 240)], [(255, 320), (260, 295)], [(290, 320), (310, 335)], [(285, 365), (305, 375)],
    [(345, 145), (365, 150)], [(325, 175), (350, 178)],
    [(265, 410), (360, 525), (385, 525), (440, 570), (485, 605), (485, 630)],
    [(210, 490), (235, 520), (260, 510)], [(250, 470), (270, 490)],
    [(190, 725), (210, 740)], [(175, 775), (205, 790)], [(160, 835), (190, 850)], [(85, 860), (140, 862)], [(98, 922), (130, 932)],
    [(135, 925), (160, 1005), (190, 1015), (195, 1035), (245, 1040)],
    [(0, 690), (180, 705)], [(25, 690), (65, 640)], [(0, 665), (20, 680)],
    [(590, 630), (640, 660)], [(610, 645), (680, 625)], [(690, 640), (740, 680), (710, 705), (680, 675), (690, 640)], [(660, 665), (640, 690), (635, 725), (600, 780)], [(550, 745), (600, 780)], [(735, 690), (800, 710)],
    [(800, 580), (825, 575)],
    [(725, 440), (720, 520)], [(735, 395), (770, 390), (800, 380)], [(735, 430), (775, 430)], [(770, 385), (770, 530)], [(790, 380), (800, 540)], [(745, 470), (745, 520)], [(770, 470), (760, 530)], [(715, 535), (820, 545)], [(795, 470), (790, 540)],
    [(640, 145), (760, 155), (860, 170)], [(800, 220), (820, 240), (850, 245)], [(825, 190), (815, 225)], [(880, 180), (885, 220)], [(910, 130), (915, 220)], [(870, 170), (915, 175)], [(915, 255), (915, 290)],
    [(1090, 255), (1095, 300)], [(1140, 250), (1135, 290)], [(1095, 235), (1195, 220)], [(1130, 215), (1190, 240)],
    [(1110, 110), (1085, 175)], [(1090, 130), (1120, 150)], [(1100, 170), (1130, 150)], [(1120, 195), (1200, 235)],
    [(600, 100), (690, 110), (640, 145)], [(635, 110), (640, 145)], [(680, 115), (690, 140)],
    [(610, 30), (640, 20), (690, 10), (700, 110)], [(610, 60), (660, 70)], [(760, 10), (760, 130)], [(830, 20), (830, 110)], [(760, 40), (830, 40)], [(770, 75), (830, 75)],
]
trunk_g = [
    [(265, 405), (180, 700), (135, 920), (105, 1010)],
    [(860, 300), (865, 420), (830, 470)],
    [(830, 470), (830, 560), (840, 600), (825, 650)],
    [(825, 650), (810, 710), (775, 835)],
    [(370, 0), (345, 90)],
]
trunk_g_lanes = [1.5, 1.8, 1.6, 2.2, 1.3]

crop_h = [
    [(78, 295), (80, 320), (105, 345), (95, 390), (115, 420), (115, 450), (60, 480), (45, 500), (20, 480)],
    [(100, 395), (120, 410), (175, 408)], [(0, 360), (40, 365), (95, 400)],
    [(270, 850), (340, 940), (350, 925), (340, 890), (365, 850), (370, 800), (430, 850), (440, 925), (500, 950), (535, 975), (520, 1010), (525, 1075), (545, 1085), (575, 1050), (585, 1015), (620, 995), (640, 1010), (635, 1190)],
    [(180, 690), (190, 730), (235, 735), (255, 790), (270, 850)],
    [(440, 930), (525, 940)], [(490, 905), (520, 830), (530, 860), (590, 820), (595, 845), (650, 805), (665, 780), (670, 725)],
    [(650, 810), (700, 815), (755, 830), (780, 890), (780, 990), (790, 1005), (825, 940)],
    [(360, 490), (430, 470), (445, 525)], [(372, 490), (372, 515)], [(465, 490), (440, 530)], [(495, 510), (470, 525)], [(530, 525), (510, 550), (485, 550)],
    [(640, 1170), (665, 1135), (680, 1145)],
]
trunk_h = [
    [(395, 35), (430, 50), (445, 80), (440, 130), (400, 240), (375, 295), (340, 340), (365, 370), (410, 395), (470, 455)],
    [(490, 470), (530, 520)],
    [(665, 700), (720, 760), (800, 815), (835, 880), (825, 960), (830, 1030)],
    [(795, 355), (790, 385), (830, 405), (885, 370), (1010, 378), (1135, 368), (1155, 365), (1020, 440), (925, 490), (910, 580), (890, 650), (920, 695), (915, 730), (890, 770), (885, 820), (915, 890), (870, 940), (840, 1030), (810, 1085)],
]
trunk_h_lanes = [1.8, 1.4, 1.9, 2.1]

crop_origins = {"a": (2370, 330), "b": (2770, 330), "c": (2450, 600), "d": (2850, 600),
                "e": (2320, 50), "f": (2720, 50), "g": (2500, 950), "h": (3150, 480)}

south_offset = 1456
x_scale = 1.176
y_scale = 2.24
lane_width = 1.3


def to_map(sheet, offset=0):
    return [[(x, y + offset) for x, y in path] for path in sheet]


def crop_to_map(sheet, name):
    ox, oy = crop_origins[name]
    return [[((ox + x / 3 - 2250) * x_scale, (oy + y / 3) * y_scale) for x, y in path] for path in sheet]


def draw_roads(ax, paths, values, lanes, cmap, norm, capstyle):
    lines = LineCollection(paths, cmap=cmap, norm=norm, capstyle=capstyle,
                           joinstyle="round", linewidths=lanes)
    lines.set_array(values)
    ax.add_collection(lines)


W, H = 3583, 1345
fig = plt.figure(figsize=(W / 300, H / 300), dpi=300)


def place(left, top, right, bottom):
    return fig.add_axes([left / W, 1 - bottom / H, (right - left) / W, (bottom - top) / H])


# Left chart

ax = place(194, 126, 1910, 1186)
ax.axhline(base_line, color="#cc4c02", lw=2, label="base line")
for cut, label, color, style in zip(reductions, reduction_labels, reduction_colors, reduction_styles):
    ax.axhline(base_line * (1 - cut), color=color, ls=style, lw=2, label=label)
ax.errorbar(years, emissions, yerr=emission_err, fmt="o", color="gray", ms=5.4, label="scenario results")
ax.set_xlim(1990, 2020)
ax.set_ylim(36, 821)
ax.set_xticks(x_ticks)
ax.set_yticks(y_ticks)
ax.tick_params(labelsize=9.2, width=0.8, length=3.5)
ax.set_xlabel("Oldest car in use (year)", fontsize=9.2, labelpad=2.5)
ax.set_ylabel("NOx Emissions (kg/day)", fontsize=9.2, labelpad=3)
ax.set_title("Scenario 3: Remove Old Diesel Cars", fontsize=11, pad=5.5)
ax.legend(loc="lower left", fontsize=9.2, labelspacing=0.56)

# Colorbar

cmap = plt.get_cmap("YlOrBr").copy()
cmap.set_under("#d6d6d6")
norm = Normalize(vmin=0.5, vmax=10)

cax = place(2082, 48, 2142, 1266)
cb = fig.colorbar(ScalarMappable(norm=norm, cmap=cmap), cax=cax, extend="min",
                  extendrect=True, extendfrac=0.053, ticks=bar_ticks, format="%.1f")
cb.ax.tick_params(labelsize=11.5, width=0.6, length=2.2)
cb.outline.set_edgecolor("#555555")
cb.outline.set_linewidth(0.6)

# Map

mx = place(2250, 0, 3583, 1345)
mx.set_xlim(0, 1568)
mx.set_ylim(1345 * y_scale, 0)
mx.axis("off")

minor = to_map(minor_south, south_offset)
for name, sheet in zip("abcdefgh", [crop_a, crop_b, crop_c, crop_d, crop_e, crop_f, crop_g, crop_h]):
    minor += crop_to_map(sheet, name)
draw_roads(mx, minor, [0] * len(minor), [1.15] * len(minor), cmap, norm, "round")

trunks = to_map(trunk_north) + to_map(trunk_south, south_offset)
trunk_lanes = trunk_north_lanes + trunk_south_lanes
for name, sheet, lanes in zip("abdefgh", [trunk_a, trunk_b, trunk_d, trunk_e, trunk_f, trunk_g, trunk_h],
                              [trunk_a_lanes, trunk_b_lanes, trunk_d_lanes, trunk_e_lanes, trunk_f_lanes, trunk_g_lanes, trunk_h_lanes]):
    trunks += crop_to_map(sheet, name)
    trunk_lanes = trunk_lanes + lanes
draw_roads(mx, trunks, [0] * len(trunks), trunk_lanes, cmap, norm, "round")

mains = to_map(main_north) + to_map(main_south, south_offset) + crop_to_map(main_h, "h")
main_values = main_north_values + main_south_values + main_h_values
main_lanes = [lane * lane_width for lane in main_north_lanes + main_south_lanes + main_h_lanes]
draw_roads(mx, mains, main_values, main_lanes, cmap, norm, "butt")

fig.savefig("out.png", dpi=300)
